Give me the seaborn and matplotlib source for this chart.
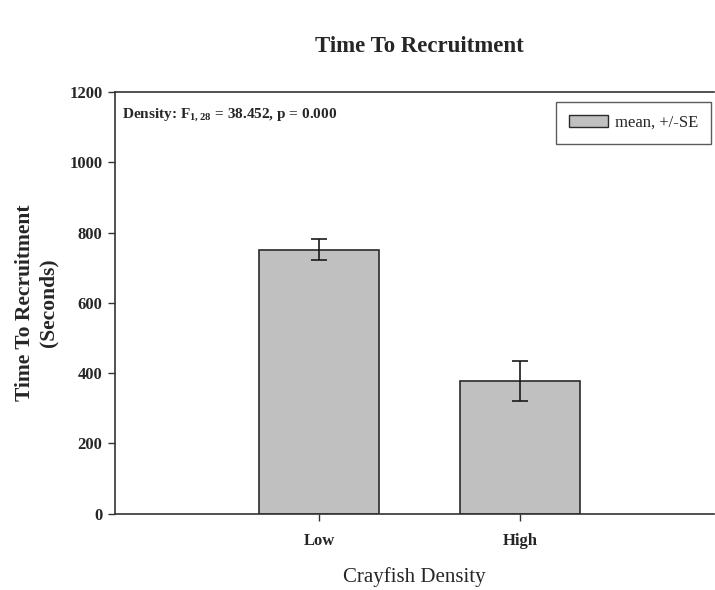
import matplotlib
matplotlib.use("Agg")
import matplotlib.pyplot as plt
import seaborn as sns
import pandas as pd
from matplotlib.patches import Patch

categories = ["Low", "High"]
means = [751, 377]
se = [30, 57]
yticks = [0, 200, 400, 600, 800, 1000, 1200]

sns.set_style("white")
plt.rcParams['font.family'] = ['Liberation Serif', 'DejaVu Serif']
plt.rcParams['mathtext.fontset'] = 'custom'
plt.rcParams['mathtext.rm'] = 'Liberation Serif'
plt.rcParams['mathtext.bf'] = 'Liberation Serif:bold'

df = pd.DataFrame({"Crayfish Density": categories, "Time": means})

fig = plt.figure(figsize=(7.15, 5.9), dpi=100)
ax = fig.add_axes([115/715, 1-513.5/590, (714-115)/715, (513.5-92.3)/590])

sns.barplot(data=df, x="Crayfish Density", y="Time", order=categories,
            color="#c0c0c0", saturation=1, width=0.6, errorbar=None,
            edgecolor="#2a2a2a", linewidth=1.2, ax=ax)
ax.errorbar(range(len(categories)), means, yerr=se, fmt="none",
            ecolor="#1a1a1a", elinewidth=1.2, capsize=6, capthick=1.2)

ax.set_xlim(-1.015, 1.965)
ax.set_ylim(0, 1200)
ax.set_yticks(yticks)
ax.set_yticklabels([str(t) for t in yticks], fontweight="bold", fontsize=12)
ax.set_xticks(range(len(categories)))
ax.set_xticklabels(categories, fontweight="bold", fontsize=12)
ax.tick_params(axis="y", direction="out", length=5, width=1, color="#333", pad=4, left=True)
ax.tick_params(axis="x", direction="out", length=5, width=1, color="#333", pad=9, bottom=True)

for s in ["left", "bottom", "top"]:
    ax.spines[s].set_visible(True)
    ax.spines[s].set_color("#333")
    ax.spines[s].set_linewidth(1.2)
ax.spines["right"].set_visible(False)

ax.set_xlabel("Crayfish Density", fontsize=15, labelpad=13)
ax.set_ylabel("Time To Recruitment\n(Seconds)", fontsize=15.5, fontweight="bold", labelpad=8)
fig.text(0.5 * (312 + 527) / 715, 1 - 47/590, "Time To Recruitment", ha="center", va="center",
         fontsize=16.5, fontweight="bold")

ax.text(0.012, 0.965, r"Density: F$_{\mathbf{1,28}}$ = 38.452, p = 0.000", transform=ax.transAxes,
        ha="left", va="top", fontsize=11, fontweight="bold")

leg = ax.legend(handles=[Patch(facecolor="#c0c0c0", edgecolor="#2a2a2a", label="mean, +/-SE")],
                loc="upper right", bbox_to_anchor=((711-115)/599, (513.5-102)/421.2),
                frameon=True, fancybox=False, fontsize=12, borderpad=0.78,
                handlelength=2.33, handleheight=0.72, handletextpad=0.42, borderaxespad=0)
leg.get_frame().set_edgecolor("#333")
leg.get_frame().set_linewidth(1.0)

fig.savefig("out.png", dpi=100)
